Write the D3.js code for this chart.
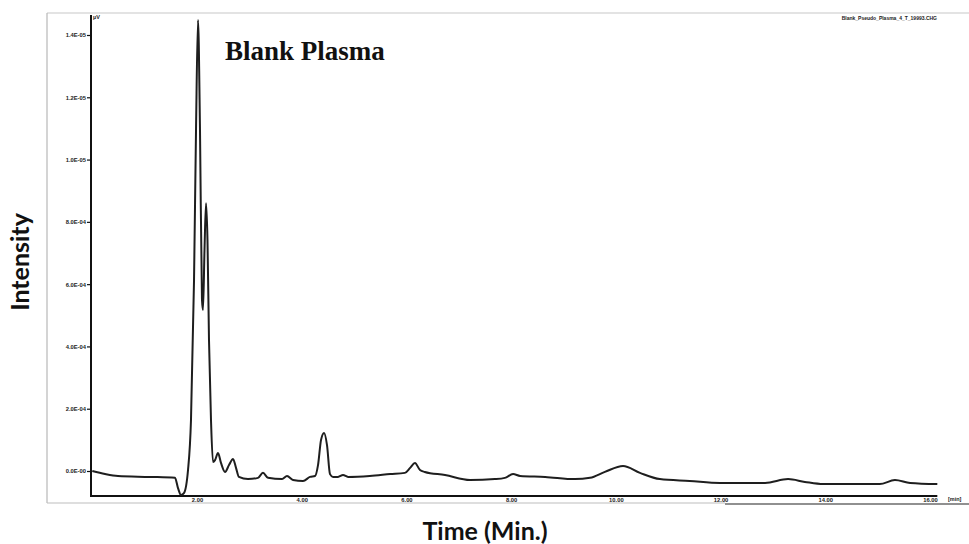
<!DOCTYPE html>
<html>
<head>
<meta charset="utf-8">
<script src="https://cdn.jsdelivr.net/npm/d3@7/dist/d3.min.js"></script>
<style>
html,body{margin:0;padding:0;background:#fff;}
svg{display:block;}
</style>
</head>
<body>
<svg id="chart" width="969" height="544"></svg>
<script>
// Retention time (min)
const times = [0,0.243,0.49,1.10,1.58,1.637,1.694,1.75,1.828,1.885,1.943,1.981,2.019,2.057,2.095,2.114,2.143,2.172,2.2,2.229,2.267,2.305,2.344,2.401,2.458,2.535,2.611,2.688,2.745,2.80,2.974,3.165,3.26,3.356,3.624,3.719,3.834,4.025,4.158,4.254,4.311,4.369,4.426,4.483,4.54,4.598,4.693,4.789,4.885,5.30,5.69,5.97,6.07,6.163,6.259,6.35,6.737,7.215,7.69,7.88,8.036,8.17,8.65,9.22,9.507,9.79,10.137,10.46,10.84,11.41,11.99,12.85,13.29,13.61,13.96,15.04,15.33,15.62,16.14];
// Signal (x 1e4 uV)
const signal = [0,-0.096,-0.16,-0.19,-0.22,-0.55,-0.77,-0.71,0.03,1.64,6.13,10.95,14.48,10.95,5.49,5.17,7.09,8.60,7.42,4.2,1.64,0.29,0.35,0.58,0.26,-0.03,0.19,0.385,0.1,-0.19,-0.26,-0.22,-0.06,-0.22,-0.26,-0.16,-0.29,-0.32,-0.19,-0.16,0.19,1.0,1.22,0.83,-0.1,-0.19,-0.19,-0.13,-0.19,-0.16,-0.10,-0.06,0.10,0.26,0.03,-0.03,-0.13,-0.29,-0.26,-0.22,-0.10,-0.16,-0.19,-0.26,-0.22,-0.03,0.16,-0.06,-0.26,-0.32,-0.385,-0.385,-0.26,-0.35,-0.42,-0.42,-0.29,-0.385,-0.42];
const yTickValues = [0,2,4,6,8,10,12,14];
const yTickLabels = ["0.0E-00","2.0E-04","4.0E-04","6.0E-04","8.0E-04","1.0E-05","1.2E-05","1.4E-05"];
const xTickValues = [2,4,6,8,10,12,14,16];
const xTickLabels = ["2.00","4.00","6.00","8.00","10.00","12.00","14.00","16.00"];

const svg = d3.select("#chart");
const x = d3.scaleLinear().domain([0,16]).range([92.3,930]);
const y = d3.scaleLinear().domain([0,14]).range([471,35]);

// outer frame
svg.append("line").attr("x1",47).attr("x2",969).attr("y1",13).attr("y2",13).attr("stroke","#c8c8c8").attr("stroke-width",1.2);
svg.append("line").attr("x1",47).attr("x2",47).attr("y1",13).attr("y2",503).attr("stroke","#b8b8b8").attr("stroke-width",1.2);
svg.append("line").attr("x1",47).attr("x2",725).attr("y1",503).attr("y2",503).attr("stroke","#bdbdbd").attr("stroke-width",1.2);
svg.append("line").attr("x1",725).attr("x2",969).attr("y1",504).attr("y2",504).attr("stroke","#222").attr("stroke-width",1.2);

// axes
const ax = svg.append("g");
ax.append("line").attr("x1",91).attr("x2",91).attr("y1",15).attr("y2",497).attr("stroke","#111").attr("stroke-width",2);
ax.append("line").attr("x1",90).attr("x2",x(16.14)).attr("y1",496).attr("y2",496).attr("stroke","#111").attr("stroke-width",2);

const yAxis = d3.axisLeft(y).tickValues(yTickValues).tickSize(4).tickPadding(1)
  .tickFormat((d,i)=>yTickLabels[i]);
const gy = svg.append("g").attr("transform","translate(91,0)").call(yAxis);
gy.select(".domain").remove();
gy.selectAll("line").attr("stroke","#111").attr("stroke-width",1.2);
gy.selectAll("text").attr("font-size",5.8).attr("font-weight","bold").attr("fill","#222")
  .attr("font-family","'Liberation Sans',Arial,sans-serif");

const xAxis = d3.axisBottom(x).tickValues(xTickValues).tickSize(0).tickPadding(2)
  .tickFormat((d,i)=>xTickLabels[i]);
const gx = svg.append("g").attr("transform","translate(0,496)").call(xAxis);
gx.select(".domain").remove();
gx.selectAll("text").attr("font-size",5.8).attr("font-weight","bold").attr("fill","#222")
  .attr("font-family","'Liberation Sans',Arial,sans-serif");

svg.append("text").attr("x",948).attr("y",501).attr("font-size",5.5).attr("font-weight","bold")
  .attr("fill","#222").attr("font-family","'Liberation Sans',Arial,sans-serif").text("[min]");
svg.append("text").attr("x",93).attr("y",19).attr("font-size",5.5).attr("font-weight","bold")
  .attr("fill","#222").attr("font-family","'Liberation Sans',Arial,sans-serif").text("µV");
svg.append("text").attr("x",937).attr("y",20).attr("text-anchor","end").attr("font-size",5).attr("font-weight","bold")
  .attr("fill","#222").attr("font-family","'Liberation Sans',Arial,sans-serif").text("Blank_Pseudo_Plasma_4_T_19993.CHG");

// trace
const pts = times.map((t,i)=>[t,signal[i]]);
const line = d3.line().x(d=>x(d[0])).y(d=>y(d[1])).curve(d3.curveMonotoneX);
svg.append("path").datum(pts).attr("d",line).attr("fill","none")
  .attr("stroke","#1e1e1e").attr("stroke-width",2).attr("stroke-linejoin","round");

// titles
svg.append("text").attr("x",225).attr("y",60).attr("font-family","'Liberation Serif','Times New Roman',serif")
  .attr("font-weight","bold").attr("font-size",27).attr("fill","#111").text("Blank Plasma");
svg.append("text").attr("transform","translate(29,262) rotate(-90)").attr("text-anchor","middle")
  .attr("font-family","Lato,'Open Sans',sans-serif").attr("font-weight","bold").attr("font-size",25)
  .attr("fill","#111").text("Intensity");
svg.append("text").attr("x",485).attr("y",540).attr("text-anchor","middle")
  .attr("font-family","Lato,'Open Sans',sans-serif").attr("font-weight","bold").attr("font-size",25)
  .attr("fill","#111").text("Time (Min.)");
</script>
</body>
</html>
